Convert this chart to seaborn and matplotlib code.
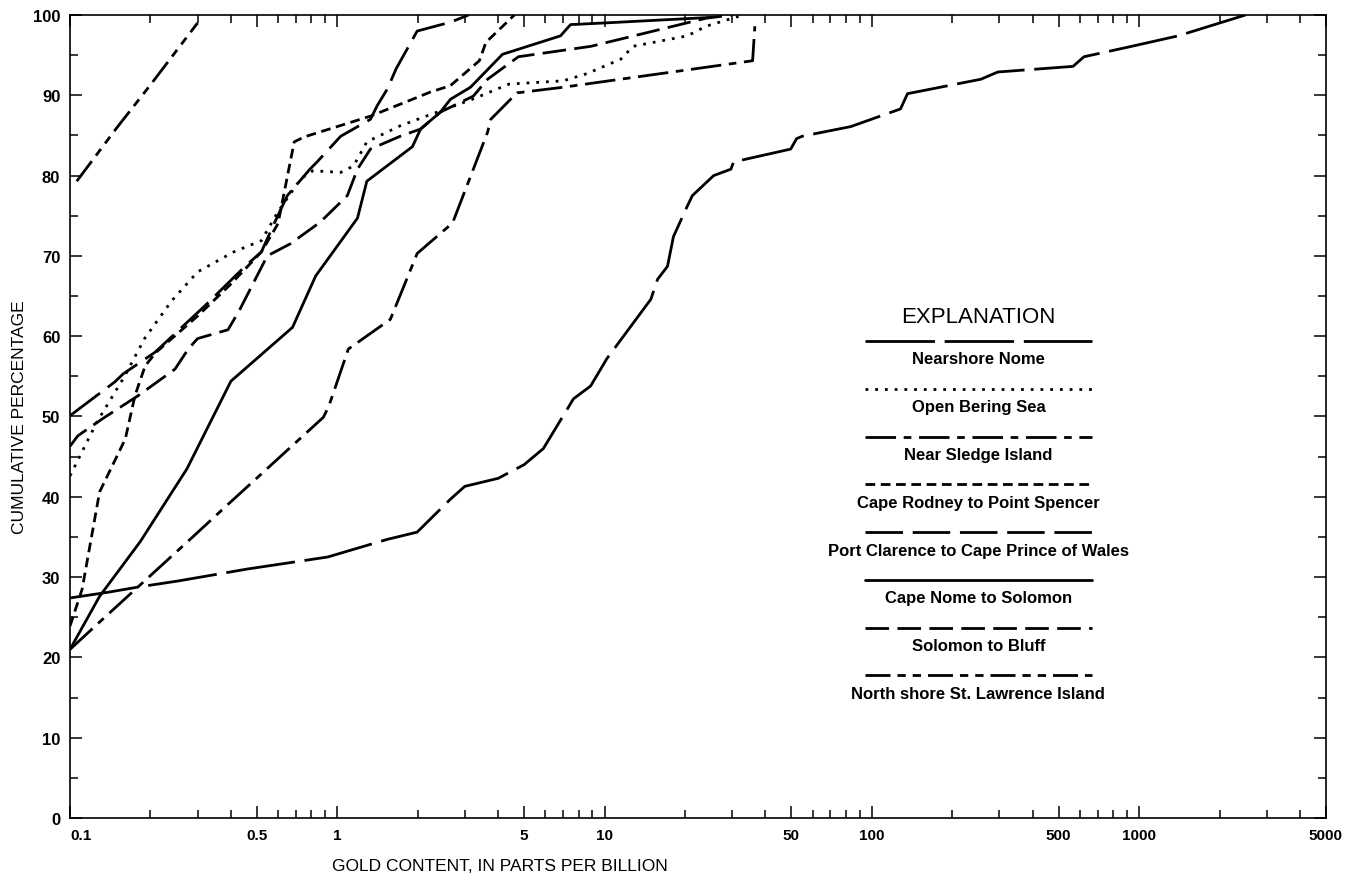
#!/usr/bin/env python
"""
Cumulative gold content of beach / nearshore sediments, Nome region.
"""

import numpy as np
import pandas as pd
import matplotlib
matplotlib.use("Agg")
import matplotlib.pyplot as plt
from matplotlib.lines import Line2D
from matplotlib.ticker import LogLocator, NullFormatter, MultipleLocator
import seaborn as sns

# series: gold content (ppb) and cumulative percentage
nearshore_nome_x = [0.1, 0.138, 0.183, 0.252, 0.46, 0.92, 1.54, 1.99, 2.65, 3.0, 4.0, 5.0,
                    5.9, 7.65, 8.87, 10.2, 14.9, 15.8, 17.2, 18.1, 20.4, 21.3, 25.6, 29.7,
                    30.4, 49.7, 52.3, 54.9, 83.4, 128, 136, 256, 296, 566, 622, 910, 1400, 2500]
nearshore_nome_y = [27.4, 28.1, 28.8, 29.5, 31.0, 32.5, 34.7, 35.6, 39.7, 41.3, 42.3, 44.0,
                    46.0, 52.2, 53.8, 57.2, 64.6, 67.1, 68.7, 72.4, 76.2, 77.5, 80.0, 80.8,
                    81.7, 83.3, 84.6, 84.9, 86.1, 88.3, 90.2, 92.0, 92.9, 93.6, 94.8, 96.0, 97.4, 100.0]

open_bering_x = [0.1, 0.126, 0.16, 0.19, 0.24, 0.3, 0.41, 0.52, 0.6, 0.73, 0.81, 1.03, 1.15,
                 1.29, 1.72, 2.23, 3.2, 4.4, 7.0, 8.6, 11.5, 12.8, 20.4, 24, 33]
open_bering_y = [42.6, 49.3, 55.0, 59.7, 64.4, 68.0, 70.5, 71.9, 75.5, 79.6, 80.6, 80.4, 81.2,
                 84.2, 86.2, 87.6, 89.5, 91.4, 91.8, 92.7, 94.5, 96.1, 97.4, 98.6, 100.0]

sledge_x = [0.1, 0.129, 0.29, 0.374, 0.887, 0.93, 1.1, 1.58, 1.99, 2.7, 3.65, 3.75, 4.7,
            7.0, 35.8, 36.5]
sledge_y = [21.0, 24.4, 35.1, 38.5, 49.9, 51.3, 58.4, 62.1, 70.3, 74.1, 85.4, 87.0, 90.3,
            91.0, 94.3, 98.6]

rodney_x = [0.1, 0.111, 0.129, 0.161, 0.175, 0.191, 0.21, 0.3, 0.4, 0.52, 0.6, 0.69, 0.75,
            1.33, 2.23, 2.65, 3.4, 3.6, 4.6]
rodney_y = [23.9, 28.5, 40.6, 47.2, 52.6, 56.3, 58.0, 62.5, 66.5, 70.5, 74.0, 84.2, 84.8,
            87.4, 90.4, 91.2, 94.3, 96.6, 100.0]

clarence_x = [0.1, 0.147, 0.158, 0.208, 0.32, 0.452, 0.52, 0.58, 0.65, 0.79, 0.84, 1.03,
              1.33, 1.41, 1.54, 1.66, 1.99, 2.65, 3.1]
clarence_y = [50.1, 54.3, 55.3, 58.0, 63.8, 68.7, 70.5, 74.0, 77.5, 80.8, 81.7, 84.9,
              87.0, 88.7, 90.8, 93.3, 98.0, 99.1, 100.0]

cape_nome_x = [0.1, 0.129, 0.183, 0.274, 0.40, 0.68, 0.83, 1.19, 1.29, 1.91, 2.05, 2.43,
               2.65, 3.15, 4.15, 6.84, 7.46, 9.9, 25]
cape_nome_y = [21.0, 27.6, 34.4, 43.5, 54.4, 61.1, 67.5, 74.7, 79.3, 83.6, 85.8, 87.9,
               89.5, 91.0, 95.1, 97.4, 98.8, 99.0, 99.7]

bluff_x = [0.1, 0.107, 0.132, 0.18, 0.247, 0.277, 0.30, 0.39, 0.43, 0.547, 0.667, 0.863,
           1.09, 1.19, 1.33, 1.72, 2.05, 2.43, 3.23, 3.65, 4.76, 8.9, 24, 30]
bluff_y = [46.3, 47.6, 49.7, 52.6, 55.9, 58.4, 59.7, 60.8, 63.2, 70.0, 71.5, 74.2,
           77.5, 80.8, 83.3, 84.9, 85.8, 87.9, 89.9, 92.0, 94.8, 96.1, 99.6, 100.0]

st_lawrence_x = [0.106, 0.15, 0.2, 0.3]
st_lawrence_y = [79.3, 86.0, 91.3, 99.0]

areas = ["Nearshore Nome", "Open Bering Sea", "Near Sledge Island",
         "Cape Rodney to Point Spencer", "Port Clarence to Cape Prince of Wales",
         "Cape Nome to Solomon", "Solomon to Bluff", "North shore St. Lawrence Island"]
xs = [nearshore_nome_x, open_bering_x, sledge_x, rodney_x, clarence_x,
      cape_nome_x, bluff_x, st_lawrence_x]
ys = [nearshore_nome_y, open_bering_y, sledge_y, rodney_y, clarence_y,
      cape_nome_y, bluff_y, st_lawrence_y]

x_ticks = [0.1, 0.5, 1, 5, 10, 50, 100, 500, 1000, 5000]
x_ticklabels = ["0.1", "0.5", "1", "5", "10", "50", "100", "500", "1000", "5000"]

# dash patterns in points
dash_styles = {
    "Nearshore Nome": (50, 7),
    "Open Bering Sea": (2, 5),
    "Near Sledge Island": (22, 5.5, 5.5, 5.5),
    "Cape Rodney to Point Spencer": (7, 4),
    "Port Clarence to Cape Prince of Wales": (27, 7),
    "Cape Nome to Solomon": "",
    "Solomon to Bluff": (17, 6),
    "North shore St. Lawrence Island": (18, 5, 6, 5, 6, 5),
}


def main():
    sns.set_style("ticks")
    plt.rcParams["font.family"] = ["Liberation Sans", "DejaVu Sans"]
    plt.rcParams["lines.scale_dashes"] = False
    for key in ["text.color", "axes.labelcolor", "xtick.color", "ytick.color",
                "axes.edgecolor"]:
        plt.rcParams[key] = "black"
    narrow = ["Liberation Sans Narrow", "Liberation Sans", "DejaVu Sans"]

    df = pd.concat(
        [pd.DataFrame({"area": a, "ppb": x, "pct": y}) for a, x, y in zip(areas, xs, ys)],
        ignore_index=True,
    )

    fig, ax = plt.subplots(figsize=(13.49, 8.78), dpi=100)
    fig.subplots_adjust(left=0.0519, right=0.9829, top=0.9818, bottom=0.0672)

    sns.lineplot(data=df, x="ppb", y="pct", hue="area", style="area",
                 palette=["black"] * len(areas), dashes=dash_styles,
                 estimator=None, sort=False, legend=False, linewidth=2.0, ax=ax)

    ax.set_xscale("log")
    ax.set_xlim(0.1, 5000)
    ax.set_ylim(0, 100)

    ax.set_xticks(x_ticks)
    ax.set_xticklabels(x_ticklabels)
    ax.xaxis.set_minor_locator(LogLocator(base=10, subs=(2, 3, 4, 6, 7, 8, 9), numticks=20))
    ax.xaxis.set_minor_formatter(NullFormatter())
    ax.yaxis.set_major_locator(MultipleLocator(10))
    ax.yaxis.set_minor_locator(MultipleLocator(5))

    ax.tick_params(which="both", direction="in", top=True, right=True, width=1.1,
                   color="black", labelcolor="black")
    ax.tick_params(which="major", length=8.5)
    ax.tick_params(which="minor", length=5.5)
    ax.tick_params(axis="y", labelsize=12, pad=7)
    ax.tick_params(axis="x", labelsize=11, pad=7)
    for lab in ax.get_xticklabels() + ax.get_yticklabels():
        lab.set_fontweight("bold")
    ax.get_xticklabels()[0].set_horizontalalignment("left")

    for sp in ax.spines.values():
        sp.set_linewidth(1.2)
        sp.set_color("black")

    ax.set_xlabel("GOLD CONTENT, IN PARTS PER BILLION", family=narrow, fontsize=12.5,
                  color="black")
    ax.xaxis.set_label_coords(0.342, -0.05)
    ax.set_ylabel("CUMULATIVE PERCENTAGE", family=narrow, fontsize=12.5, color="black")
    ax.yaxis.set_label_coords(-0.034, 0.5)

    # explanation block: line sample above each centred label
    x0, x1, xc = 0.633, 0.814, 0.7233
    ax.text(xc, 0.625, "EXPLANATION", transform=ax.transAxes, ha="center",
            va="center", fontsize=16, color="black")
    for i, area in enumerate(areas):
        yl = 0.594 - i * 0.0595
        ln = Line2D([x0, x1], [yl, yl], transform=ax.transAxes, color="black",
                    linewidth=2.0)
        if dash_styles[area]:
            ln.set_dashes(dash_styles[area])
        ax.add_artist(ln)
        ax.text(xc, yl - 0.0224, area, transform=ax.transAxes, ha="center",
                va="center", fontsize=12, fontweight="bold", family=narrow,
                color="black")

    fig.savefig("out.png", dpi=100, facecolor="white")


if __name__ == "__main__":
    main()
